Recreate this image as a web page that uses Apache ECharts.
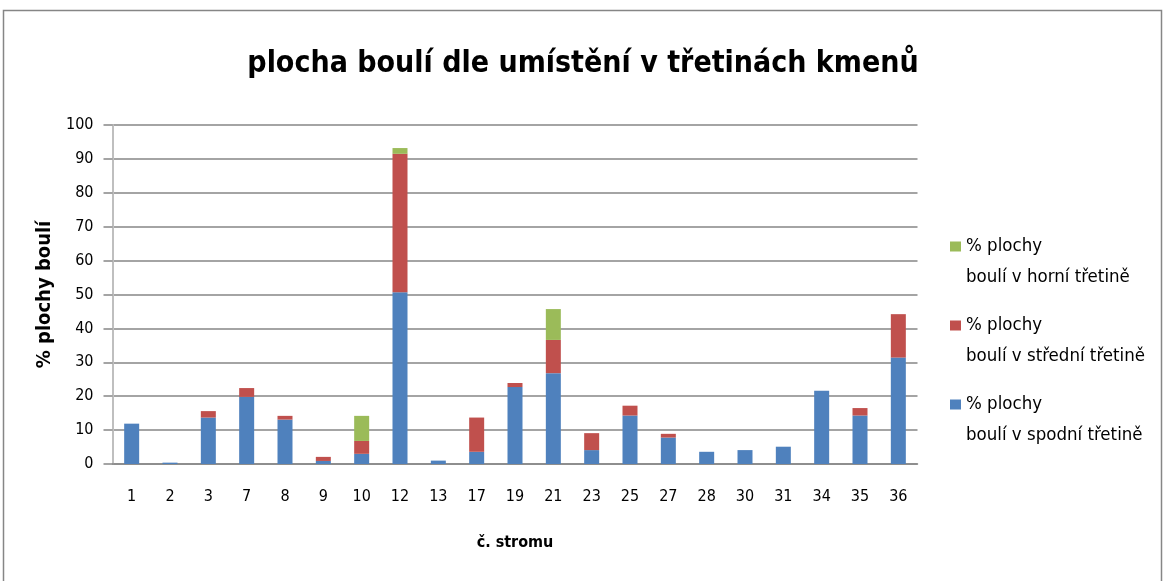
<!DOCTYPE html>
<html>

<head>
    <meta charset="UTF-8">
    <title>plocha boulí dle umístění v třetinách kmenů</title>
    <script type="text/javascript" src="https://cdn.jsdelivr.net/npm/echarts@6/dist/echarts.min.js"></script>
</head>

<body style="margin: 0;padding: 0;">
    <div id="container" style="width:1166px; height:581px;"></div>
    <script>
        // data
        var stromy = ['1', '2', '3', '7', '8', '9', '10', '12', '13', '17', '19', '21', '23', '25', '27', '28', '30', '31', '34', '35', '36'];
        var spodni = [11.9, 0.4, 13.7, 19.8, 13.1, 0.9, 3.0, 50.7, 1.0, 3.6, 22.7, 26.8, 4.1, 14.3, 7.8, 3.6, 4.1, 5.1, 21.6, 14.3, 31.4];
        var stredni = [0, 0, 1.9, 2.6, 1.1, 1.2, 3.8, 40.8, 0, 10.1, 1.2, 9.8, 5.0, 2.9, 1.1, 0, 0, 0, 0, 2.2, 12.8];
        var horni = [0, 0, 0, 0, 0, 0, 7.4, 1.7, 0, 0, 0, 9.1, 0, 0, 0, 0, 0, 0, 0, 0, 0];
        var yTicks = { min: 0, max: 100, interval: 10 };

        var font = "'Liberation Sans Narrow', 'DejaVu Sans Condensed', 'Noto Sans', sans-serif";
        var gridColor = '#868686';

        var chart = echarts.init(document.getElementById('container'), null, { renderer: 'canvas' });

        var option = {
            backgroundColor: '#fff',
            animation: false,
            textStyle: { fontFamily: font, color: '#000' },
            graphic: [{
                type: 'rect',
                shape: { x: 3.5, y: 10.5, width: 1158, height: 580 },
                style: { fill: 'none', stroke: gridColor, lineWidth: 1.5 },
                silent: true
            }],
            title: {
                text: 'plocha boulí dle umístění v třetinách kmenů',
                left: 'center',
                top: 44,
                textStyle: { fontFamily: font, fontSize: 30, fontWeight: 'bold', color: '#000' }
            },
            legend: {
                orient: 'vertical',
                left: 950,
                top: 200,
                padding: 0,
                itemWidth: 11,
                itemHeight: 10,
                itemGap: -14,
                icon: 'rect',
                data: ['horni', 'stredni', 'spodni'],
                formatter: function (name) {
                    var popis = { horni: 'horní', stredni: 'střední', spodni: 'spodní' };
                    return ' \n% plochy\nboulí v ' + popis[name] + ' třetině';
                },
                textStyle: { fontFamily: font, fontSize: 18.5, lineHeight: 31, color: '#000' }
            },
            grid: { left: 112.5, right: 248.5, top: 125, bottom: 117 },
            xAxis: {
                type: 'category',
                data: stromy,
                name: 'č. stromu',
                nameLocation: 'middle',
                nameGap: 71,
                nameTextStyle: { fontFamily: font, fontSize: 16, fontWeight: 'bold', color: '#000' },
                axisLine: { lineStyle: { color: gridColor, width: 1.5 } },
                axisTick: { length: 9, lineStyle: { color: '#a6a6a6', width: 1.5 } },
                axisLabel: { fontSize: 16, margin: 25, color: '#000', fontFamily: font }
            },
            yAxis: {
                type: 'value',
                min: yTicks.min,
                max: yTicks.max,
                interval: yTicks.interval,
                name: '% plochy boulí',
                nameLocation: 'middle',
                nameGap: 57,
                nameTextStyle: { fontFamily: font, fontSize: 20, fontWeight: 'bold', color: '#000' },
                axisLine: { show: true, lineStyle: { color: '#bfbfbf', width: 2 } },
                axisTick: { show: true, length: 9, lineStyle: { color: gridColor, width: 1.5 } },
                axisLabel: { fontSize: 16, margin: 19, color: '#000', fontFamily: font },
                splitLine: { lineStyle: { color: gridColor, width: 1.5 } }
            },
            series: [{
                name: 'spodni',
                type: 'bar',
                stack: 'plocha',
                barWidth: 15,
                itemStyle: { color: '#4f81bd' },
                data: spodni
            }, {
                name: 'stredni',
                type: 'bar',
                stack: 'plocha',
                barWidth: 15,
                itemStyle: { color: '#c0504d' },
                data: stredni
            }, {
                name: 'horni',
                type: 'bar',
                stack: 'plocha',
                barWidth: 15,
                itemStyle: { color: '#9bbb59' },
                data: horni
            }]
        };
        chart.setOption(option);
    </script>
</body>

</html>
